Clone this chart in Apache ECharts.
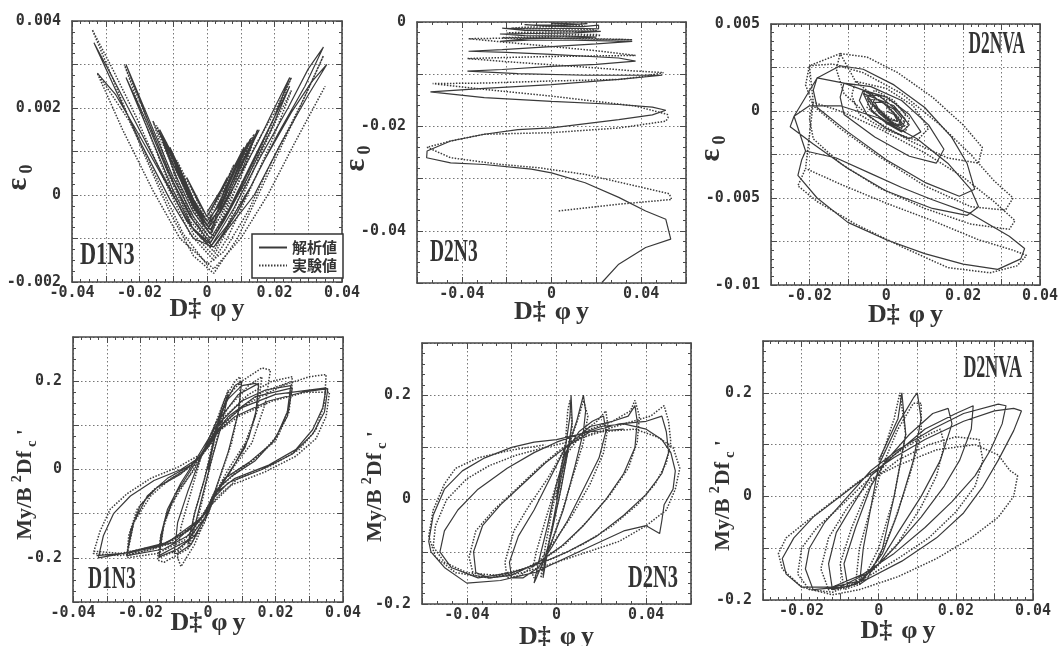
<!DOCTYPE html>
<html><head><meta charset="utf-8">
<script src="https://cdn.jsdelivr.net/npm/echarts@6/dist/echarts.min.js"></script>
<style>html,body{margin:0;padding:0;background:#fff}#c{width:1061px;height:646px}</style>
</head><body><div id="c"></div>
<script>
// ---------- DATA (x = D*φy , y = ε0 or My/B²Df'c) ----------
const seriesNames = ['解析値', '実験値'];
const panelLabels = ['D1N3', 'D2N3', 'D2NVA', 'D1N3', 'D2N3', 'D2NVA'];

// Panel 1: D1N3, ε0
const p1Solid = [[0,-0.0004],[0.004,0.0001],[0.006,0.0004],[0.003,-0.0001],[0,-0.0005],[-0.004,0.0001],[-0.006,0.0004],[-0.003,-0.0001],[0,-0.0005],
[0.005,0.0002],[0.009,0.0008],[0.011,0.0011],[0.007,0.0004],[0.003,-0.0003],[0,-0.0006],[-0.004,-0.0001],[-0.008,0.0006],[-0.011,0.0011],[-0.007,0.0004],[-0.003,-0.0003],[0,-0.0006],
[0.004,-0.0002],[0.008,0.0005],[0.012,0.0012],[0.008,0.0004],[0.003,-0.0004],[0,-0.0007],[-0.004,-0.0002],[-0.008,0.0005],[-0.012,0.0012],[-0.008,0.0004],[-0.003,-0.0004],[0,-0.0008],
[0.005,-0.0001],[0.01,0.0007],[0.014,0.0013],[0.01,0.0005],[0.004,-0.0004],[0,-0.0008],[-0.005,-0.0001],[-0.01,0.0007],[-0.013,0.0012],[-0.009,0.0004],[-0.004,-0.0004],[0.001,-0.0009],
[0.005,0.0001],[0.01,0.0009],[0.013,0.0013],[0.009,0.0006],[0.004,-0.0003],[0,-0.0007],[-0.005,0],[-0.01,0.0009],[-0.014,0.0015],[-0.01,0.0008],[-0.005,-0.0001],[0,-0.0007],
[0.006,0.0002],[0.011,0.001],[0.0155,0.0015],[0.011,0.0008],[0.005,-0.0002],[0.001,-0.0008],[-0.004,-0.0002],[-0.01,0.0008],[-0.0145,0.0015],[-0.01,0.0007],[-0.004,-0.0003],[0.001,-0.0008],
[0.008,0.0002],[0.015,0.0012],[0.02,0.002],[0.0245,0.0027],[0.02,0.0018],[0.013,0.0007],[0.006,-0.0004],[0.001,-0.001],[-0.004,-0.0005],[-0.01,0.0004],[-0.017,0.0017],[-0.024,0.003],[-0.018,0.0018],[-0.01,0.0003],[-0.004,-0.0006],[0.001,-0.0011],
[0.007,-0.0003],[0.014,0.0008],[0.02,0.0018],[0.0245,0.0025],[0.019,0.0015],[0.012,0.0004],[0.005,-0.0006],[0.001,-0.0011],[-0.005,-0.0005],[-0.012,0.0006],[-0.018,0.0017],[-0.024,0.0027],[-0.017,0.0014],[-0.01,0.0001],[-0.004,-0.0008],[0.001,-0.0012],
[0.008,-0.0003],[0.016,0.0009],[0.024,0.002],[0.03,0.0029],[0.0345,0.0034],[0.029,0.0025],[0.021,0.0014],[0.013,0.0002],[0.006,-0.0007],[0.001,-0.0012],[-0.006,-0.0006],[-0.014,0.0006],[-0.022,0.0018],[-0.028,0.0027],[-0.0335,0.0035],[-0.027,0.0024],[-0.019,0.0011],[-0.011,-0.0001],[-0.004,-0.001],[0.002,-0.0012],
[0.009,-0.0004],[0.017,0.0008],[0.025,0.0019],[0.031,0.0026],[0.0355,0.003],[0.03,0.0023],[0.022,0.0012],[0.014,0],[0.006,-0.0008],[0.002,-0.0012],[-0.005,-0.0007],[-0.013,0.0004],[-0.021,0.0015],[-0.027,0.0023],[-0.0325,0.0028]];
const p1Test = [[0,-0.0005],[0.005,0.0002],[0.008,0.0007],[0.004,0],[0,-0.0006],[-0.005,0.0002],[-0.009,0.0008],[-0.004,-0.0001],[0,-0.0007],
[0.005,-0.0002],[0.009,0.0006],[0.013,0.0013],[0.009,0.0004],[0.004,-0.0005],[0,-0.0009],[-0.005,-0.0002],[-0.009,0.0006],[-0.013,0.0013],[-0.009,0.0003],[-0.004,-0.0006],[0.001,-0.001],
[0.006,0.0003],[0.011,0.001],[0.014,0.0014],[0.009,0.0005],[0.003,-0.0004],[0,-0.0008],[-0.005,0],[-0.011,0.001],[-0.015,0.0016],[-0.01,0.0007],[-0.004,-0.0003],[0.001,-0.0009],
[0.006,-0.0002],[0.011,0.0008],[0.015,0.0015],[0.01,0.0004],[0.004,-0.0007],[0,-0.0011],[-0.006,-0.0002],[-0.011,0.0008],[-0.016,0.0017],[-0.011,0.0005],[-0.005,-0.0006],[0.001,-0.0011],
[0.007,-0.0001],[0.014,0.0011],[0.02,0.0019],[0.025,0.0027],[0.019,0.0016],[0.012,0.0004],[0.006,-0.0007],[0.002,-0.0013],[-0.004,-0.0008],[-0.011,0.0004],[-0.018,0.0018],[-0.0245,0.003],[-0.018,0.0016],[-0.011,0.0002],[-0.004,-0.0009],[0.002,-0.0014],
[0.008,-0.0005],[0.015,0.0008],[0.021,0.0018],[0.025,0.0024],
[0.019,0.0012],[0.012,0],[0.006,-0.001],[0.002,-0.0015],[-0.005,-0.0009],[-0.013,0.0004],[-0.021,0.0018],[-0.028,0.0029],[-0.034,0.0038],[-0.027,0.0025],[-0.019,0.001],[-0.011,-0.0004],[-0.004,-0.0014],[0.002,-0.0018],[0.009,-0.001],[0.017,0.0003],[0.025,0.0016],[0.031,0.0026],[0.0345,0.0032],[0.028,0.0021],[0.02,0.0009],[0.012,-0.0004],[0.005,-0.0013],[0,-0.0016],[-0.007,-0.0009],[-0.015,0.0004],[-0.023,0.0017],[-0.0325,0.0028],[-0.025,0.0015],[-0.016,0.0001],[-0.008,-0.001],[0.002,-0.0017],[0.01,-0.001],[0.018,0],[0.026,0.0012],[0.035,0.0025]];

// Panel 2: D2N3, ε0
const p2Solid = [[0,-0.0002],[0.012,-0.0004],[0.016,-0.0003],[0.006,-0.0006],[-0.008,-0.0006],[-0.012,-0.0005],[-0.002,-0.0008],[0.014,-0.0009],[0.021,-0.0006],[0.021,-0.0013],[0.008,-0.0012],[-0.01,-0.0013],[-0.022,-0.0012],[-0.012,-0.0016],[0.008,-0.0017],[0.022,-0.0018],[0.01,-0.0021],[-0.008,-0.0022],[-0.023,-0.0023],[-0.012,-0.0026],[0.008,-0.0027],[0.02,-0.0029],[0.006,-0.0031],[-0.01,-0.0032],[-0.023,-0.0037],[-0.01,-0.0035],[0.01,-0.0035],[0.025,-0.0036],[0.036,-0.0037],[0.02,-0.0042],[0,-0.0047],[-0.022,-0.0053],[-0.037,-0.0056],[-0.02,-0.0058],[0,-0.0062],[0.03,-0.0069],[0.0375,-0.0075],[0.02,-0.0081],[0,-0.0085],[-0.022,-0.0091],[-0.0375,-0.0094],[-0.015,-0.0099],[0.015,-0.0102],[0.04,-0.0102],[0.0494,-0.0102],[0.03,-0.011],[0,-0.012],[-0.03,-0.0127],[-0.054,-0.0134],[-0.03,-0.0145],[0,-0.0152],[0.03,-0.0158],[0.045,-0.0163],[0.051,-0.0169],[0.045,-0.0178],[0.03,-0.0187],[0,-0.0203],[-0.015,-0.0206],[-0.03,-0.0215],[-0.045,-0.0228],[-0.0555,-0.0247],[-0.0557,-0.026],[-0.045,-0.027],[-0.03,-0.0273],[-0.009,-0.0282],[0,-0.0289],[0.015,-0.0308],[0.03,-0.0336],[0.042,-0.0362],[0.051,-0.0378],[0.0532,-0.0416],[0.042,-0.0432],[0.03,-0.0464],[0.0225,-0.0499]];
const p2Test = [[0,-0.0003],[0.01,-0.0005],[0.015,-0.0008],[0,-0.0009],[-0.012,-0.001],[-0.018,-0.0012],[0,-0.0013],[0.018,-0.0014],[0.02,-0.0017],[0.005,-0.0019],[-0.015,-0.002],[-0.02,-0.0021],[0,-0.0023],[0.02,-0.0024],[0.022,-0.0026],[0,-0.0028],[-0.022,-0.003],[0,-0.0031],[0.02,-0.0033],[0.036,-0.0034],[0.03,-0.0033],[0,-0.0031],[-0.02,-0.0031],[-0.037,-0.0032],[-0.02,-0.0039],[0,-0.0047],[0.02,-0.0055],[0.0375,-0.0064],[0.02,-0.0065],[0,-0.0066],[-0.02,-0.0068],[-0.0375,-0.007],[-0.02,-0.0076],[0,-0.0082],[0.02,-0.0088],[0.0375,-0.0094],[0.05,-0.0097],[0.04,-0.0105],[0.03,-0.011],[0,-0.0113],[-0.03,-0.0117],[-0.053,-0.0118],[-0.045,-0.0122],[-0.03,-0.0129],[0,-0.0142],[0.0375,-0.0161],[0.0517,-0.0177],[0.052,-0.0183],[0.051,-0.019],[0.03,-0.0203],[0,-0.0212],[-0.03,-0.0215],[-0.045,-0.0228],[-0.0555,-0.024],[-0.045,-0.026],[-0.0225,-0.0273],[-0.006,-0.0279],[0.015,-0.0292],[0.0375,-0.0314],[0.0525,-0.0329],[0.0536,-0.034],[0.03,-0.0349],[0.003,-0.0362]];

// Panel 3: D2NVA, ε0
const p3Solid = [[0,0],[0.002,-0.0002],[0.003,-0.0006],[0.001,-0.0005],[-0.002,0.0001],[-0.003,0.0005],[-0.001,0.0005],[0.002,-0.0001],[0.004,-0.0008],[0.002,-0.0008],[-0.002,-0.0001],[-0.004,0.0006],[-0.003,0.0008],
[-0.002,0.0006],[0.002,0.0001],[0.004,-0.0004],[0.003,-0.0009],[0,-0.0004],[-0.003,0.0003],[-0.005,0.0009],[-0.002,0.0009],[0.003,0],[0.006,-0.0008],[0.004,-0.0012],[0,-0.0007],[-0.004,0.0001],[-0.006,0.001],
[0.002,0.0003],[0.005,-0.0005],[0.004,-0.001],[0,-0.0006],[-0.004,0],[-0.003,0.0008],
[-0.006,0.0012],[0,0.0008],[0.006,-0.0002],[0.009,-0.0012],[0.006,-0.0016],[0,-0.001],[-0.005,-0.0002],[-0.007,0.0006],[-0.006,0.0012],
[-0.011,0.0016],[-0.004,0.0014],[0.004,0.0006],[0.011,-0.0008],[0.015,-0.0022],[0.013,-0.003],[0.006,-0.0026],[-0.003,-0.0015],[-0.011,-0.0002],[-0.012,0.0008],[-0.011,0.0016],
[-0.018,0.0019],[-0.012,0.0026],[-0.006,0.0024],[0.002,0.0015],[0.01,0.0002],[0.017,-0.0015],[0.021,-0.003],[0.023,-0.0045],[0.019,-0.0049],[0.01,-0.0041],[0,-0.0028],[-0.01,-0.0012],[-0.018,0.0002],[-0.019,0.0012],[-0.018,0.0019],
[-0.024,-0.0003],[-0.02,0.0003],[-0.012,0.0003],[-0.002,-0.0004],[0.008,-0.0016],[0.016,-0.003],[0.022,-0.0045],[0.024,-0.0055],[0.021,-0.006],[0.012,-0.0056],[0,-0.0046],[-0.01,-0.0033],[-0.019,-0.0019],[-0.025,-0.0009],[-0.024,-0.0003],
[-0.021,-0.0023],[-0.013,-0.0027],[-0.004,-0.0036],[0.004,-0.0044],[0.012,-0.0051],[0.022,-0.0059],[0.032,-0.0072],[0.036,-0.0079],[0.035,-0.0085],[0.029,-0.0091],[0.02,-0.0088],[0.01,-0.0082],[0,-0.0074],[-0.01,-0.0064],[-0.018,-0.005],[-0.023,-0.0037],[-0.022,-0.0028],[-0.021,-0.0023]];
const p3Test = [[0,0.0002],[0.003,-0.0003],[0.004,-0.0007],[0.001,-0.0004],[-0.003,0.0003],[-0.003,0.0007],[0,0.0004],[0.003,-0.0004],[0.005,-0.0009],[0.002,-0.0007],[-0.002,0],[-0.005,0.0007],
[-0.003,0.0012],[0.002,0.0006],[0.005,-0.0002],[0.004,-0.0009],[0,-0.0005],[-0.004,0.0004],[-0.006,0.0011],
[-0.004,0.001],[0.002,0.0005],[0.006,-0.0004],[0.005,-0.0012],[0,-0.0007],[-0.005,0.0002],[-0.004,0.001],
[-0.008,0.0017],[0,0.0013],[0.007,0.0003],[0.011,-0.001],[0.008,-0.0017],[0,-0.0011],[-0.007,-0.0002],[-0.009,0.0009],[-0.008,0.0017],
[-0.012,0.0033],[-0.005,0.0031],[0.003,0.0022],[0.012,0.0008],[0.02,-0.0008],[0.025,-0.0021],[0.024,-0.003],[0.016,-0.0027],[0.006,-0.0017],[-0.004,-0.0004],[-0.011,0.001],[-0.013,0.0024],[-0.012,0.0033],
[-0.02,0.0026],[-0.014,0.0027],[-0.006,0.0022],[0.004,0.001],[0.014,-0.0008],[0.022,-0.0025],[0.028,-0.004],[0.033,-0.005],[0.031,-0.0057],[0.022,-0.0055],[0.01,-0.0043],[-0.002,-0.0026],[-0.012,-0.001],[-0.019,0.0003],[-0.021,0.0015],[-0.02,0.0026],
[-0.019,0.0005],[-0.012,0],[-0.002,-0.001],[0.01,-0.0024],[0.02,-0.0038],[0.028,-0.0052],[0.0335,-0.0063],[0.032,-0.0068],[0.022,-0.0065],[0.01,-0.0056],[-0.002,-0.0044],[-0.012,-0.003],[-0.019,-0.0016],[-0.02,-0.0004],[-0.019,0.0005],
[-0.021,-0.0033],[-0.012,-0.0042],[0,-0.0053],[0.012,-0.0063],[0.024,-0.0074],[0.033,-0.008],[0.0365,-0.0083],[0.034,-0.0089],[0.027,-0.0093],[0.016,-0.009],[0.004,-0.0078],[-0.008,-0.0065],[-0.018,-0.0052],[-0.023,-0.0043],[-0.021,-0.0033]];

// Panel 4: D1N3, My/B²Df'c
const p4Solid = [[0,0],[0.002,0.07],[0.004,0.13],[0.006,0.17],[0.004,0.1],[0.001,0.02],[-0.002,-0.07],[-0.004,-0.13],[-0.006,-0.17],[-0.004,-0.1],[-0.001,-0.02],[0.002,0.07],
[0.005,0.15],[0.008,0.19],[0.01,0.2],[0.009,0.13],[0.006,0.04],[0.002,-0.05],[-0.001,-0.11],[-0.005,-0.17],[-0.009,-0.19],[-0.01,-0.19],[-0.009,-0.12],[-0.006,-0.05],[-0.002,0.03],[0.002,0.1],[0.006,0.16],[0.01,0.19],
[0.014,0.195],[0.015,0.19],[0.014,0.12],[0.011,0.05],[0.006,-0.01],[0.002,-0.06],[0,-0.1],[-0.004,-0.15],[-0.009,-0.18],[-0.0145,-0.198],[-0.014,-0.15],[-0.012,-0.09],[-0.008,-0.03],[-0.003,0.03],[0.001,0.08],[0.004,0.12],[0.009,0.17],[0.015,0.195],
[0.0145,0.14],[0.012,0.07],[0.007,0],[0.002,-0.06],[-0.001,-0.11],[-0.006,-0.16],[-0.0145,-0.195],
[-0.013,-0.12],[-0.01,-0.06],[-0.005,0],[0,0.06],[0.004,0.11],[0.01,0.155],[0.017,0.18],[0.0245,0.19],[0.0235,0.13],[0.02,0.07],[0.014,0.02],[0.007,-0.015],[0.002,-0.05],[-0.001,-0.1],[-0.006,-0.15],[-0.013,-0.18],[-0.024,-0.195],[-0.023,-0.14],[-0.02,-0.08],[-0.015,-0.04],[-0.008,-0.01],[-0.002,0.03],[0.002,0.08],[0.006,0.12],[0.014,0.165],[0.025,0.185],
[0.0235,0.12],[0.019,0.06],[0.012,0.015],[0.005,-0.02],[0.001,-0.07],[-0.002,-0.11],[-0.01,-0.165],[-0.024,-0.19],
[-0.022,-0.12],[-0.018,-0.06],[-0.012,-0.02],[-0.005,0.01],[0,0.05],[0.004,0.1],[0.01,0.14],[0.02,0.17],[0.035,0.185],[0.034,0.14],[0.031,0.09],[0.026,0.045],[0.018,0.01],[0.008,-0.02],[0.002,-0.055],[-0.001,-0.1],[-0.006,-0.14],[-0.015,-0.175],[-0.025,-0.19],[-0.0325,-0.2],[-0.031,-0.15],[-0.028,-0.1],[-0.023,-0.06],[-0.016,-0.025],[-0.008,0],[-0.002,0.03],[0.002,0.08],[0.008,0.12],[0.018,0.155],[0.028,0.175],[0.0355,0.183],[0.0345,0.13],[0.031,0.08],[0.025,0.035],[0.016,0],[0.006,-0.03],[0.001,-0.07],[-0.002,-0.11],[-0.012,-0.165],[-0.025,-0.19],[-0.033,-0.195]];
const p4Test = [[0,0],[0.002,0.08],[0.004,0.14],[0.006,0.18],[0.004,0.11],[0.001,0.02],[-0.002,-0.08],[-0.004,-0.14],[-0.006,-0.18],[-0.004,-0.1],[-0.001,-0.02],[0.002,0.08],
[0.005,0.16],[0.008,0.2],[0.0095,0.21],[0.0095,0.15],[0.007,0.06],[0.003,-0.03],[0,-0.1],[-0.004,-0.17],[-0.008,-0.22],[-0.009,-0.2],[-0.008,-0.13],[-0.005,-0.05],[-0.002,0.03],[0.002,0.1],[0.005,0.16],[0.01,0.2],
[0.016,0.23],[0.0185,0.225],[0.017,0.15],[0.013,0.06],[0.007,0],[0.002,-0.06],[-0.001,-0.12],[-0.006,-0.18],[-0.013,-0.21],[-0.015,-0.205],[-0.014,-0.15],[-0.011,-0.08],[-0.006,-0.02],[-0.002,0.03],[0.002,0.09],[0.006,0.14],[0.012,0.19],[0.016,0.21],
[0.0145,0.13],[0.011,0.06],[0.006,0],[0.001,-0.07],[-0.003,-0.13],[-0.008,-0.18],[-0.0145,-0.2],
[-0.013,-0.12],[-0.009,-0.05],[-0.004,0],[0,0.06],[0.005,0.12],[0.012,0.17],[0.019,0.2],[0.025,0.21],[0.024,0.14],[0.021,0.08],[0.015,0.03],[0.008,-0.01],[0.002,-0.05],[-0.001,-0.1],[-0.007,-0.16],[-0.015,-0.19],[-0.024,-0.2],[-0.0235,-0.15],[-0.021,-0.09],[-0.016,-0.045],[-0.009,-0.012],[-0.002,0.03],[0.003,0.085],[0.008,0.13],[0.016,0.175],[0.025,0.2],
[0.024,0.13],[0.02,0.065],[0.013,0.02],[0.005,-0.02],[0.001,-0.07],[-0.003,-0.12],[-0.012,-0.17],[-0.024,-0.195],
[-0.022,-0.12],[-0.017,-0.06],[-0.011,-0.02],[-0.004,0.01],[0.001,0.06],[0.005,0.11],[0.012,0.15],[0.022,0.19],[0.03,0.21],[0.035,0.215],[0.0345,0.15],[0.032,0.09],[0.027,0.045],[0.019,0.01],[0.009,-0.02],[0.003,-0.06],[-0.001,-0.1],[-0.007,-0.145],[-0.016,-0.18],[-0.026,-0.195],[-0.034,-0.19],[-0.032,-0.14],[-0.029,-0.09],[-0.024,-0.055],[-0.017,-0.02],[-0.009,0.005],[-0.002,0.035],[0.002,0.08],[0.009,0.12],[0.019,0.155],[0.029,0.175],[0.036,0.175],[0.035,0.12],[0.032,0.07],[0.026,0.03],[0.017,-0.005],[0.007,-0.035],[0.001,-0.08],[-0.003,-0.12],[-0.013,-0.17],[-0.026,-0.19],[-0.034,-0.185]];

// Panel 5: D2N3, My/B²Df'c
const p5Solid = [[0,0],[0.002,0.06],[0.004,0.1],[0.006,0.16],[0.0065,0.2],[0.007,0.15],[0.005,0.09],[0.002,0.02],[-0.002,-0.06],[-0.005,-0.11],[-0.006,-0.15],[-0.004,-0.1],[-0.001,-0.03],[0.002,0.04],[0.005,0.1],[0.009,0.15],[0.012,0.2],[0.013,0.17],[0.012,0.13],[0.008,0.06],[0.003,-0.02],[-0.002,-0.08],[-0.006,-0.12],[-0.009,-0.15],[-0.01,-0.16],[-0.008,-0.12],[-0.004,-0.05],[0,0.03],[0.004,0.09],[0.01,0.13],[0.016,0.15],[0.021,0.16],[0.022,0.13],[0.019,0.08],[0.012,0.02],[0.005,-0.04],[-0.002,-0.09],[-0.008,-0.13],[-0.015,-0.15],[-0.02,-0.15],[-0.021,-0.12],[-0.017,-0.07],[-0.01,-0.02],[-0.003,0.04],[0.004,0.1],[0.015,0.14],[0.025,0.15],[0.032,0.16],[0.035,0.18],[0.036,0.15],[0.035,0.1],[0.03,0.05],[0.022,0],[0.012,-0.05],[0.002,-0.09],[-0.008,-0.12],[-0.02,-0.145],[-0.03,-0.15],[-0.036,-0.14],[-0.037,-0.1],[-0.033,-0.05],[-0.025,-0.01],[-0.015,0.03],[-0.005,0.07],[0.004,0.1],[0.015,0.13],[0.028,0.145],[0.04,0.15],[0.047,0.16],[0.049,0.13],[0.05,0.09],[0.047,0.05],[0.04,0.01],[0.03,-0.03],[0.018,-0.07],[0.005,-0.1],[-0.006,-0.12],[-0.02,-0.14],[-0.035,-0.15],[-0.047,-0.13],[-0.052,-0.1],[-0.05,-0.06],[-0.044,-0.02],[-0.035,0.02],[-0.022,0.06],[-0.01,0.09],[0,0.11],[0.01,0.125],[0.02,0.14],[0.03,0.145],[0.04,0.135],[0.047,0.115],[0.051,0.09],[0.053,0.055],[0.052,0.02],[0.048,-0.01],[0.047,-0.04],[0.046,-0.065],[0.04,-0.05],[0.03,-0.06],[0.015,-0.09],[0,-0.12],[-0.01,-0.14],[-0.025,-0.155],[-0.04,-0.16],[-0.05,-0.13],[-0.056,-0.1],[-0.057,-0.08],[-0.055,-0.03],[-0.05,0.02],[-0.042,0.055],[-0.032,0.08],[-0.02,0.1],[-0.01,0.11],[0,0.115],[0.015,0.13],[0.03,0.135]];
const p5Test = [[0,0],[0.002,0.06],[0.004,0.11],[0.005,0.17],[0.006,0.19],[0.007,0.14],[0.004,0.07],[0.001,0],[-0.003,-0.07],[-0.005,-0.12],[-0.007,-0.15],[-0.005,-0.09],[-0.002,-0.02],[0.002,0.05],[0.006,0.11],[0.01,0.16],[0.012,0.19],[0.014,0.16],[0.012,0.11],[0.007,0.04],[0.002,-0.03],[-0.003,-0.09],[-0.007,-0.13],[-0.01,-0.15],[-0.011,-0.14],[-0.009,-0.1],[-0.005,-0.04],[0,0.03],[0.005,0.09],[0.012,0.13],[0.018,0.15],[0.022,0.17],[0.023,0.14],[0.021,0.09],[0.015,0.03],[0.007,-0.03],[-0.001,-0.08],[-0.008,-0.12],[-0.016,-0.145],[-0.022,-0.15],[-0.023,-0.12],[-0.019,-0.06],[-0.012,-0.01],[-0.004,0.04],[0.004,0.1],[0.015,0.135],[0.025,0.15],[0.033,0.17],[0.035,0.19],[0.037,0.16],[0.036,0.11],[0.032,0.06],[0.024,0.01],[0.014,-0.04],[0.004,-0.085],[-0.006,-0.115],[-0.018,-0.14],[-0.03,-0.15],[-0.037,-0.145],[-0.039,-0.11],[-0.036,-0.06],[-0.028,-0.02],[-0.018,0.02],[-0.007,0.065],[0.003,0.1],[0.015,0.125],[0.03,0.145],[0.042,0.16],[0.048,0.18],[0.05,0.15],[0.051,0.11],[0.049,0.07],[0.044,0.03],[0.036,-0.01],[0.025,-0.05],[0.012,-0.085],[0,-0.11],[-0.012,-0.13],[-0.027,-0.145],[-0.04,-0.14],[-0.05,-0.12],[-0.055,-0.09],[-0.054,-0.05],[-0.049,0],[-0.04,0.04],[-0.03,0.065],[-0.018,0.085],[-0.005,0.1],[0.005,0.11],[0.02,0.13],[0.035,0.135],[0.045,0.12],[0.052,0.1],[0.055,0.06],[0.053,0.02],[0.049,-0.02],[0.04,-0.05],[0.028,-0.08],[0.014,-0.1],[0,-0.12],[-0.015,-0.14],[-0.03,-0.15],[-0.045,-0.14],[-0.054,-0.11],[-0.057,-0.07],[-0.055,-0.02],[-0.05,0.03],[-0.045,0.06],[-0.035,0.08],[-0.02,0.095],[-0.005,0.105]];

// Panel 6: D2NVA, My/B²Df'c
const p6Solid = [[0,0.07],[0.005,0.15],[0.006,0.2],[0.007,0.12],[0.004,0],[0.001,-0.1],[-0.003,-0.16],[-0.005,-0.17],[-0.004,-0.1],[-0.002,-0.02],[0,0.06],[0.005,0.14],[0.009,0.19],[0.01,0.2],[0.011,0.15],[0.009,0.07],[0.005,-0.03],[0.001,-0.11],[-0.004,-0.16],[-0.008,-0.175],[-0.009,-0.13],[-0.006,-0.06],[-0.002,0.02],[0.002,0.07],
[0.008,0.12],[0.014,0.16],[0.018,0.17],[0.019,0.14],[0.016,0.07],[0.011,0],[0.005,-0.07],[0,-0.13],[-0.006,-0.17],[-0.012,-0.18],[-0.013,-0.13],[-0.011,-0.07],[-0.007,-0.02],[-0.002,0.04],[0.004,0.08],[0.012,0.13],[0.02,0.16],[0.0245,0.175],[0.024,0.13],[0.021,0.07],[0.017,0.02],[0.011,-0.04],[0.004,-0.1],[-0.002,-0.145],[-0.01,-0.175],[-0.017,-0.18],[-0.019,-0.14],[-0.018,-0.1],[-0.014,-0.05],[-0.008,0],[-0.002,0.05],[0.005,0.09],[0.014,0.13],[0.022,0.16],[0.031,0.178],[0.033,0.175],[0.032,0.14],[0.029,0.09],[0.025,0.04],[0.019,-0.01],[0.012,-0.06],[0.004,-0.11],[-0.004,-0.15],[-0.012,-0.175],[-0.02,-0.175],[-0.024,-0.15],[-0.025,-0.12],[-0.022,-0.08],[-0.017,-0.04],[-0.01,0],[-0.003,0.04],[0.004,0.075],[0.012,0.11],[0.022,0.145],[0.03,0.165],[0.035,0.17],[0.037,0.165],[0.035,0.127],[0.031,0.07],[0.027,0.019],[0.022,-0.032],[0.015,-0.08],[0.006,-0.125],[-0.003,-0.16],[-0.012,-0.175]];
const p6Test = [[0,0.06],[0.004,0.15],[0.0055,0.2],[0.007,0.12],[0.004,0],[0,-0.1],[-0.004,-0.16],[-0.006,-0.17],[-0.005,-0.1],[-0.002,-0.02],[0.001,0.06],[0.005,0.13],[0.009,0.18],[0.011,0.18],[0.011,0.12],[0.008,0.04],[0.004,-0.05],[0,-0.12],[-0.005,-0.17],[-0.009,-0.18],[-0.01,-0.13],[-0.007,-0.06],[-0.003,0.01],[0.002,0.07],[0.008,0.1],[0.013,0.12],[0.016,0.13],[0.017,0.1],[0.015,0.04],[0.011,-0.02],[0.005,-0.09],[-0.001,-0.14],[-0.008,-0.175],[-0.013,-0.18],[-0.015,-0.14],[-0.013,-0.08],[-0.008,-0.02],[-0.002,0.03],[0.005,0.07],[0.013,0.1],[0.02,0.115],[0.026,0.11],[0.027,0.07],[0.025,0.02],[0.02,-0.03],[0.013,-0.08],[0.005,-0.12],[-0.004,-0.16],[-0.012,-0.185],[-0.018,-0.18],[-0.021,-0.15],[-0.02,-0.1],[-0.016,-0.06],[-0.01,-0.02],[-0.003,0.03],[0.005,0.06],[0.015,0.09],[0.025,0.1],[0.031,0.08],[0.034,0.05],[0.036,0.04],[0.035,0],[0.031,-0.04],[0.024,-0.08],[0.015,-0.12],[0.005,-0.155],[-0.005,-0.18],[-0.012,-0.19],[-0.02,-0.175],[-0.025,-0.14],[-0.026,-0.11],[-0.024,-0.08],[-0.019,-0.05],[-0.012,-0.01],[-0.005,0.03],[0.002,0.06]];

// axis ranges: [min, max, gridStep, labelStep, minorSplit]
const xRange1 = [-0.04, 0.04, 0.01, 0.02, 4];
const xRange2 = [-0.06, 0.06, 0.02, 0.04, 3];
const xRange3 = [-0.03, 0.04, 0.01, 0.02, 5];
const yRange1 = [-0.002, 0.004, 0.001, 0.002, 4];
const yRange2 = [-0.05, 0, 0.01, 0.02, 5];
const yRange3 = [-0.01, 0.005, 0.0025, 0.005, 5];
const yRange4 = [-0.3, 0.3, 0.1, 0.2, 4];
const yRange5 = [-0.2, 0.3, 0.1, 0.2, 5];

// ---------- LAYOUT / STYLE ----------
const INK = '#333';
const SERIF = '"Liberation Serif", "DejaVu Serif", serif';
const MONO = '"DejaVu Sans Mono", monospace';

const panels = [
  {grid:{left:72,top:21,width:270,height:261}, xr:xRange1, yr:yRange1, solid:p1Solid, test:p1Test, yKind:'eps', yGap:36, yShift:26, xGap:14,
   lab:{x:80,y:256,align:'left',sx:0.72}},
  {grid:{left:417,top:22,width:269,height:261}, xr:xRange2, yr:yRange2, solid:p2Solid, test:p2Test, yKind:'eps', yGap:43, yShift:6, xGap:16,
   lab:{x:430,y:253,align:'left',sx:0.63}},
  {grid:{left:771,top:24,width:269,height:261}, xr:xRange3, yr:yRange3, solid:p3Solid, test:p3Test, yKind:'eps', yGap:42, yShift:-6, xGap:17,
   lab:{x:1025,y:45,align:'right',sx:0.56}},
  {grid:{left:73,top:337,width:270,height:265}, xr:xRange1, yr:yRange4, solid:p4Solid, test:p4Test, yKind:'m', yGap:33, yShift:15, xGap:8,
   lab:{x:88,y:580,align:'left',sx:0.63}},
  {grid:{left:422,top:343,width:269,height:261}, xr:xRange2, yr:yRange5, solid:p5Solid, test:p5Test, yKind:'m', yGap:32, yShift:13, xGap:20,
   lab:{x:678,y:579,align:'right',sx:0.66}},
  {grid:{left:763,top:341,width:270,height:259}, xr:xRange3, yr:yRange5, solid:p6Solid, test:p6Test, yKind:'m', yGap:25, yShift:25, xGap:18,
   lab:{x:1022,y:369,align:'right',sx:0.58}}
];

function labelFmt(step) {
  return function (v) {
    const k = Math.round(v / step);
    if (Math.abs(v - k * step) > step * 1e-6) return '';
    const r = parseFloat((k * step).toFixed(6));
    return r === 0 ? '0' : String(r);
  };
}
function axisBase(r, gi, pos, main) {
  return {
    type: 'value', gridIndex: gi, position: pos,
    min: r[0], max: r[1], interval: r[2],
    nameMoveOverlap: false,
    axisLine: {show: true, onZero: false, lineStyle: {color: '#4a4a4a', width: 1.6}},
    axisTick: {show: true, inside: true, length: 6, lineStyle: {color: '#4a4a4a', width: 1}},
    minorTick: {show: true, splitNumber: r[4], length: 3, lineStyle: {color: '#4a4a4a', width: 1}},
    splitLine: {show: main, lineStyle: {type: [1.5, 2.5], color: '#777', width: 1}},
    axisLabel: main ? {show: true, formatter: labelFmt(r[3]), color: INK, fontFamily: MONO, fontWeight: 'bold', fontSize: 15, showMinLabel: true, showMaxLabel: true, hideOverlap: false} : {show: false},
    silent: true
  };
}
function xNameRich() {
  const base = {fontFamily: SERIF, fontWeight: 'bold', fontSize: 26, color: INK};
  return {a: base, b: Object.assign({}, base, {padding: [0, 5, 0, 9]}), c: base};
}
function yName(kind, shift) {
  const padEnd = shift > 0 ? 2 * shift : 0, padStart = shift < 0 ? -2 * shift : 0;
  if (kind === 'eps') {
    return {
      name: '{e|ε}{s|0}',
      rich: {
        e: {fontFamily: SERIF, fontWeight: 'bold', fontSize: 30, lineHeight: 36, color: INK, padding: [0, 0, 0, padStart]},
        s: {fontFamily: SERIF, fontWeight: 'bold', fontSize: 18, lineHeight: 18, verticalAlign: 'bottom', color: INK, padding: [0, padEnd, 0, 4]}
      }
    };
  }
  const m = {fontFamily: SERIF, fontWeight: 'bold', fontSize: 22, lineHeight: 30, color: INK};
  return {
    name: '{m0|My/B}{sup|2}{m|Df}{sub|c}{m1|\'}',
    rich: {
      m0: Object.assign({}, m, {padding: [0, 0, 0, padStart]}),
      m: m,
      m1: Object.assign({}, m, {padding: [0, padEnd, 0, 5]}),
      sup: {fontFamily: SERIF, fontWeight: 'bold', fontSize: 14, lineHeight: 14, verticalAlign: 'top', color: INK, padding: [0, 1, 0, 5]},
      sub: {fontFamily: SERIF, fontWeight: 'bold', fontSize: 15, lineHeight: 15, verticalAlign: 'bottom', color: INK, padding: [0, 0, 0, 4]}
    }
  };
}

const grids = [], xAxes = [], yAxes = [], series = [], graphics = [];
panels.forEach((p, i) => {
  grids.push(Object.assign({show: false, containLabel: false, outerBoundsMode: 'none'}, p.grid));
  const xb = axisBase(p.xr, i, 'bottom', true);
  Object.assign(xb, {name: '{a|D‡}{b|φ}{c|y}', nameLocation: 'middle', nameGap: p.xGap,
    nameTextStyle: {rich: xNameRich(), verticalAlign: 'top'}});
  xb.axisLabel.margin = 4;
  xAxes.push(xb, axisBase(p.xr, i, 'top', false));
  const yb = axisBase(p.yr, i, 'left', true);
  const yn = yName(p.yKind, p.yShift);
  Object.assign(yb, {name: yn.name, nameLocation: 'middle', nameRotate: 90, nameGap: p.yGap,
    nameTextStyle: {rich: yn.rich}});
  yb.axisLabel.margin = 11;
  yAxes.push(yb, axisBase(p.yr, i, 'right', false));
  series.push({
    name: seriesNames[0], type: 'line', xAxisIndex: 2 * i, yAxisIndex: 2 * i, data: p.solid,
    symbol: 'none', showSymbol: false, smooth: false, clip: true, silent: true,
    itemStyle: {color: '#3a3a3a'},
    lineStyle: {color: '#3a3a3a', width: 1.2, type: 'solid'}, z: 3
  }, {
    name: seriesNames[1], type: 'line', xAxisIndex: 2 * i, yAxisIndex: 2 * i, data: p.test,
    symbol: 'none', showSymbol: false, smooth: false, clip: true, silent: true,
    itemStyle: {color: '#3a3a3a'},
    lineStyle: {color: '#3a3a3a', width: 1.5, type: [1.5, 1.5]}, z: 2
  });
  graphics.push({
    type: 'text', x: p.lab.x, y: p.lab.y, scaleX: p.lab.sx, scaleY: 1, z: 20,
    style: {text: panelLabels[i], font: 'bold 31px ' + SERIF, fill: INK,
      align: p.lab.align, verticalAlign: 'middle', textAlign: p.lab.align, textVerticalAlign: 'middle'}
  });
});

const chart = echarts.init(document.getElementById('c'), null, {renderer: 'canvas'});
chart.setOption({
  backgroundColor: '#fff',
  animation: false,
  grid: grids, xAxis: xAxes, yAxis: yAxes, series: series,
  legend: {
    data: seriesNames, orient: 'vertical', left: 252, top: 234,
    itemWidth: 28, itemHeight: 12, itemGap: 3, padding: [6, 6, 5, 6],
    borderColor: '#333', borderWidth: 1.5, backgroundColor: '#fff', z: 10,
    itemStyle: {opacity: 0},
    textStyle: {fontFamily: '"Noto Sans CJK JP", sans-serif', fontWeight: 'bold', fontSize: 15, color: INK, padding: [0, 0, 0, 0]},
    selectedMode: false
  },
  graphic: graphics
});
</script>
</body></html>
